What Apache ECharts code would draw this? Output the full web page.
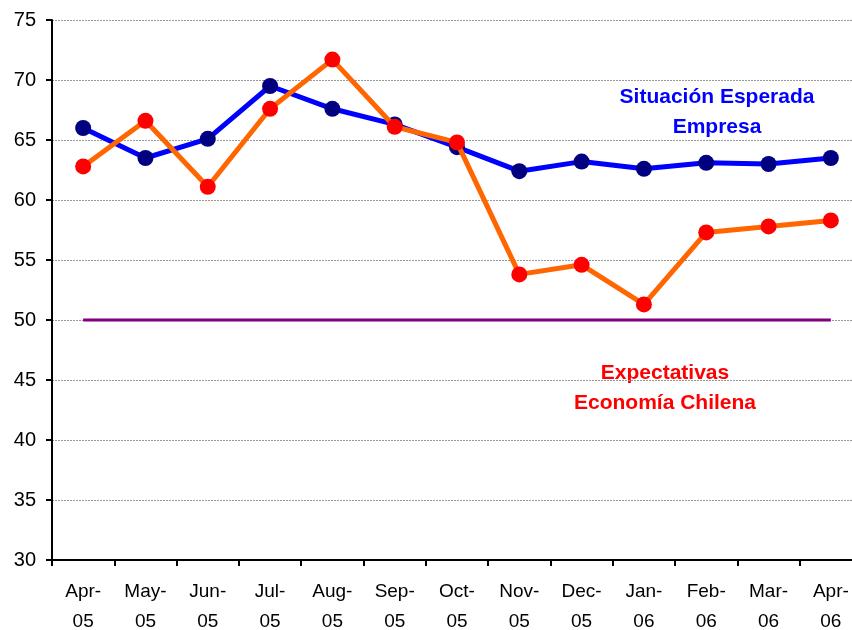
<!DOCTYPE html>
<html>
<head>
<meta charset="utf-8">
<script src="https://cdn.jsdelivr.net/npm/echarts@6/dist/echarts.min.js"></script>
<style>
  html, body { margin: 0; padding: 0; background: #fff; overflow: hidden; }
  /* el gráfico original sigue un poco más allá del borde derecho */
  #myChart { width: 862px; height: 630px; }
</style>
</head>
<body>
<div id="myChart"></div>
<script>
  // meses
  var months = ['Apr-\n05', 'May-\n05', 'Jun-\n05', 'Jul-\n05', 'Aug-\n05', 'Sep-\n05', 'Oct-\n05',
                'Nov-\n05', 'Dec-\n05', 'Jan-\n06', 'Feb-\n06', 'Mar-\n06', 'Apr-\n06'];
  // Situación Esperada Empresa
  var empresa = [66.0, 63.5, 65.1, 69.5, 67.6, 66.3, 64.4, 62.4, 63.2, 62.6, 63.1, 63.0, 63.5];
  // Expectativas Economía Chilena
  var economia = [62.8, 66.6, 61.1, 67.6, 71.7, 66.1, 64.8, 53.8, 54.6, 51.3, 57.3, 57.8, 58.3];
  // referencia neutral
  var neutral = [50, 50, 50, 50, 50, 50, 50, 50, 50, 50, 50, 50, 50];

  var myChart = echarts.init(document.getElementById('myChart'));
  var font = 'Liberation Sans, Arial, sans-serif';

  myChart.setOption({
    animation: false,
    grid: { left: 52, right: 0, top: 20, bottom: 70, containLabel: false, outerBoundsMode: 'none' },
    xAxis: {
      type: 'category',
      data: months,
      boundaryGap: true,
      axisLine: { lineStyle: { color: '#000', width: 2 } },
      axisTick: { show: true, length: 6, lineStyle: { color: '#000', width: 2 } },
      axisLabel: { color: '#000', fontSize: 19, fontFamily: font, lineHeight: 30, margin: 17, interval: 0 }
    },
    yAxis: {
      type: 'value',
      min: 30,
      max: 75,
      interval: 5,
      axisLine: { show: true, lineStyle: { color: '#000', width: 2 } },
      axisTick: { show: true, length: 6, lineStyle: { color: '#000', width: 2 } },
      axisLabel: { color: '#000', fontSize: 20, fontFamily: font, margin: 16 },
      splitLine: { show: true, lineStyle: { color: '#999', type: [2, 1], width: 1 } }
    },
    series: [
      {
        name: 'Neutral',
        type: 'line',
        data: neutral,
        symbol: 'none',
        lineStyle: { color: '#800080', width: 3 },
        z: 1
      },
      {
        name: 'Situación Esperada Empresa',
        type: 'line',
        data: empresa,
        symbol: 'circle',
        symbolSize: 16,
        itemStyle: { color: '#000080' },
        lineStyle: { color: '#0000ff', width: 5 },
        z: 2
      },
      {
        name: 'Expectativas Economía Chilena',
        type: 'line',
        data: economia,
        symbol: 'circle',
        symbolSize: 16,
        itemStyle: { color: '#ff0000' },
        lineStyle: { color: '#ff6600', width: 5 },
        z: 3
      }
    ],
    graphic: [
      {
        type: 'text',
        x: 717, y: 82,
        style: {
          text: 'Situación Esperada\nEmpresa',
          fill: '#0000ff',
          font: 'bold 21px ' + font,
          lineHeight: 30,
          align: 'center'
        }
      },
      {
        type: 'text',
        x: 665, y: 358,
        style: {
          text: 'Expectativas\nEconomía Chilena',
          fill: '#ff0000',
          font: 'bold 21px ' + font,
          lineHeight: 30,
          align: 'center'
        }
      }
    ]
  });
</script>
</body>
</html>
